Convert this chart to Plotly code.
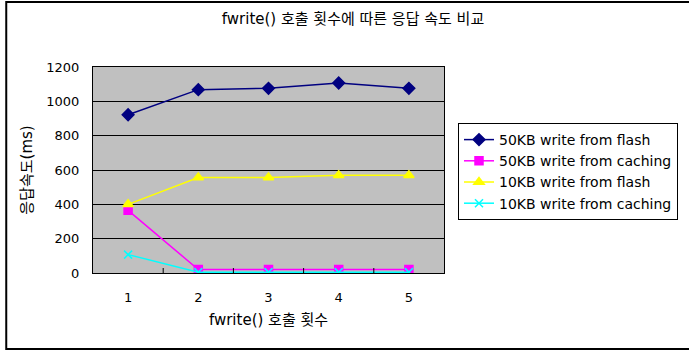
import plotly.graph_objects as go

# fwrite() call count vs. response time (ms)
calls = [1, 2, 3, 4, 5]
flash_50kb = [922, 1068, 1076, 1107, 1076]
caching_50kb = [365, 20, 20, 20, 20]
flash_10kb = [400, 556, 556, 570, 570]
caching_10kb = [107, 5, 5, 5, 5]
y_ticks = [0, 200, 400, 600, 800, 1000, 1200]

FONT = "DejaVu Sans, Noto Sans CJK KR"

series = [
    ("50KB write from flash", flash_50kb, "#000080", "diamond", 9),
    ("50KB write from caching", caching_50kb, "#FF00FF", "square", 8),
    ("10KB write from flash", flash_10kb, "#FFFF00", "triangle-up", 9),
    ("10KB write from caching", caching_10kb, "#00FFFF", "x-thin-open", 8),
]

fig = go.Figure()
for i, (name, vals, color, symbol, size) in enumerate(series):
    fig.add_trace(go.Scatter(
        x=calls, y=vals, name=name, mode="lines+markers",
        legendgroup=f"g{i}",
        line=dict(color=color, width=1.5),
        marker=dict(symbol=symbol, size=size, color=color,
                    line=dict(color=color, width=1.5)),
    ))

fig.update_layout(
    width=689, height=351,
    margin=dict(l=93, r=244, t=67, b=78),
    paper_bgcolor="white",
    plot_bgcolor="#C0C0C0",
    font=dict(family=FONT, size=13, color="black"),
    title=dict(text="fwrite() 호출 횟수에 따른 응답 속도 비교",
               x=353 / 689, xanchor="center", y=1 - 19 / 351, yanchor="middle",
               font=dict(size=15)),
    showlegend=True,
    legend=dict(x=(458 - 93) / 352, y=(273 - 123) / 206,
                xanchor="left", yanchor="top",
                bgcolor="white", bordercolor="black", borderwidth=1,
                font=dict(size=14), tracegroupgap=0,
                itemsizing="trace"),
    xaxis=dict(range=[0.5, 5.5], tickmode="array", tickvals=calls,
               ticktext=[str(c) for c in calls],
               showgrid=False, zeroline=False,
               showline=True, linecolor="black", linewidth=1, mirror=True,
               ticks="", ticklabelstandoff=12,
               title=dict(text="fwrite() 호출 횟수", standoff=10,
                          font=dict(size=15)),
               tickfont=dict(size=13)),
    yaxis=dict(range=[0, 1200], tickmode="array", tickvals=y_ticks,
               showgrid=True, gridcolor="black", gridwidth=1,
               zeroline=False,
               showline=True, linecolor="black", linewidth=1, mirror=True,
               ticks="", ticklabelstandoff=10,
               title=dict(text="응답속도(ms)", standoff=10,
                          font=dict(size=15)),
               tickfont=dict(size=13)),
)

# category-boundary tick marks along the bottom axis
for b in [1.5, 2.5, 3.5, 4.5]:
    fig.add_shape(type="line", xref="x", yref="paper",
                  x0=b, x1=b, y0=0, y1=5 / 206,
                  line=dict(color="black", width=1))

# outer chart frame
fig.add_shape(type="rect", xref="paper", yref="paper",
              x0=(6 - 93) / 352, x1=(695 - 93) / 352,
              y0=(273 - 349) / 206, y1=(273 - 2) / 206,
              line=dict(color="black", width=2), fillcolor="rgba(0,0,0,0)",
              layer="below")

fig.write_html("out.html")
